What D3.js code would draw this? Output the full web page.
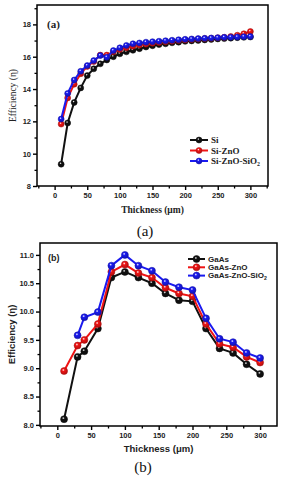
<!DOCTYPE html>
<html>
<head>
<meta charset="utf-8">
<script src="https://cdn.jsdelivr.net/npm/d3@7"></script>
<style>
  body { margin: 0; background: #fff; }
  svg { display: block; }
</style>
</head>
<body>
<div id="chart"></div>
<script>
// panel (a) - Si cells
const thickA = [10, 20, 30, 40, 50, 60, 70, 80, 90, 100, 110, 120, 130, 140, 150,
                160, 170, 180, 190, 200, 210, 220, 230, 240, 250, 260, 270, 280, 290, 300];
const effSi = [9.35, 11.9, 13.17, 14.07, 14.83, 15.25, 15.56, 15.8, 16.0, 16.18, 16.3, 16.4, 16.5, 16.6, 16.68,
               16.75, 16.8, 16.86, 16.9, 16.95, 16.98, 17.01, 17.04, 17.07, 17.1, 17.12, 17.15, 17.18, 17.2, 17.22];
const effSiZnO = [11.83, 13.45, 14.3, 14.95, 15.4, 15.7, 16.1, 16.1, 16.3, 16.45, 16.55, 16.65, 16.72, 16.78, 16.84,
                  16.88, 16.92, 16.96, 17.0, 17.03, 17.06, 17.09, 17.12, 17.14, 17.17, 17.2, 17.25, 17.33, 17.42, 17.56];
const effSiZnOSiO2 = [12.14, 13.73, 14.56, 15.1, 15.45, 15.76, 16.07, 15.97, 16.38, 16.55, 16.7, 16.8, 16.85, 16.9, 16.93,
                      16.96, 16.99, 17.02, 17.05, 17.08, 17.1, 17.12, 17.14, 17.16, 17.18, 17.2, 17.21, 17.22, 17.24, 17.25];
const ticksA = [0, 50, 100, 150, 200, 250, 300];
const yTicksA = [8, 10, 12, 14, 16, 18];

// panel (b) - GaAs cells
const thickB = [10, 30, 40, 60, 80, 100, 120, 140, 160, 180, 200, 220, 240, 260, 280, 300];
const effGaAs = [8.1, 9.2, 9.3, 9.7, 10.6, 10.7, 10.6, 10.5, 10.32, 10.2, 10.18, 9.7, 9.35, 9.27, 9.07, 8.9];
const effGaAsZnO = [8.95, 9.4, 9.5, 9.78, 10.7, 10.83, 10.68, 10.6, 10.42, 10.32, 10.27, 9.78, 9.43, 9.37, 9.2, 9.1];
const thickB3 = [30, 40, 60, 80, 100, 120, 140, 160, 180, 200, 220, 240, 260, 280, 300];
const effGaAsZnOSiO2 = [9.58, 9.9, 9.99, 10.81, 11.0, 10.81, 10.72, 10.52, 10.43, 10.38, 9.88, 9.52, 9.46, 9.27, 9.18];
const ticksB = [0, 50, 100, 150, 200, 250, 300];
const yTicksB = [8.0, 8.5, 9.0, 9.5, 10.0, 10.5, 11.0];

const colors = {black: "#111", red: "#f01414", blue: "#1a1af0"};

const svg = d3.select("#chart").append("svg")
    .attr("width", 291)
    .attr("height", 480);

svg.append("rect").attr("width", 291).attr("height", 480).attr("fill", "#fff");

// shiny ball markers
const defs = svg.append("defs");
Object.entries(colors).forEach(([k, c]) => {
    const g = defs.append("radialGradient").attr("id", "ball-" + k)
        .attr("cx", "40%").attr("cy", "35%").attr("r", "65%");
    g.append("stop").attr("offset", "0%").attr("stop-color", "#fff");
    g.append("stop").attr("offset", "30%").attr("stop-color", c);
    g.append("stop").attr("offset", "100%").attr("stop-color", d3.color(c).darker(0.8));
});

function drawPanel(cfg) {
    const g = svg.append("g");
    const x = d3.scaleLinear().domain(cfg.xDomain).range([cfg.left, cfg.right]);
    const y = d3.scaleLinear().domain(cfg.yDomain).range([cfg.bottom, cfg.top]);

    // frame
    g.append("rect")
        .attr("x", cfg.left).attr("y", cfg.top)
        .attr("width", cfg.right - cfg.left).attr("height", cfg.bottom - cfg.top)
        .attr("fill", "none").attr("stroke", "#000").attr("stroke-width", 1.5);

    // minor ticks
    const minorX = d3.range(-25, 326, 25).filter(v => v > cfg.xDomain[0] && v < cfg.xDomain[1] && v % 50 !== 0);
    g.append("g").attr("transform", `translate(0,${cfg.bottom})`)
        .call(d3.axisBottom(x).tickValues(minorX).tickSize(2.5).tickFormat(""))
        .call(a => a.select(".domain").remove())
        .call(a => a.selectAll("line").attr("stroke-width", 1.3));
    g.append("g").attr("transform", `translate(${cfg.left},0)`)
        .call(d3.axisLeft(y).tickValues(cfg.minorY).tickSize(2.5).tickFormat(""))
        .call(a => a.select(".domain").remove())
        .call(a => a.selectAll("line").attr("stroke-width", 1.3));

    // major ticks
    const xa = g.append("g").attr("transform", `translate(0,${cfg.bottom})`)
        .call(d3.axisBottom(x).tickValues(cfg.xTicks).tickSize(4).tickPadding(3));
    const ya = g.append("g").attr("transform", `translate(${cfg.left},0)`)
        .call(d3.axisLeft(y).tickValues(cfg.yTicks).tickSize(4).tickPadding(2)
            .tickFormat(d3.format(cfg.yFormat)));
    [xa, ya].forEach(a => {
        a.select(".domain").remove();
        a.selectAll("line").attr("stroke-width", 1.4);
        a.selectAll("text").attr("font-family", cfg.tickFont).attr("font-weight", "bold")
            .attr("font-size", cfg.tickSize).attr("fill", "#222");
    });

    // series
    cfg.series.forEach(s => {
        const pts = s.xs.map((v, i) => [v, s.ys[i]]);
        g.append("path")
            .datum(pts)
            .attr("fill", "none")
            .attr("stroke", colors[s.color])
            .attr("stroke-width", 2)
            .attr("d", d3.line().x(d => x(d[0])).y(d => y(d[1])));
        g.selectAll(null).data(pts).enter().append("circle")
            .attr("cx", d => x(d[0])).attr("cy", d => y(d[1]))
            .attr("r", cfg.r)
            .attr("fill", `url(#ball-${s.color})`)
            .attr("stroke", d3.color(colors[s.color]).darker(1))
            .attr("stroke-width", 0.5);
    });

    // legend
    cfg.series.forEach((s, i) => {
        const ly = cfg.legend.y + i * cfg.legend.dy;
        g.append("line")
            .attr("x1", cfg.legend.x).attr("x2", cfg.legend.x + cfg.legend.len)
            .attr("y1", ly).attr("y2", ly)
            .attr("stroke", colors[s.color]).attr("stroke-width", 2);
        g.append("circle")
            .attr("cx", cfg.legend.x + cfg.legend.len / 2).attr("cy", ly).attr("r", cfg.r)
            .attr("fill", `url(#ball-${s.color})`)
            .attr("stroke", d3.color(colors[s.color]).darker(1)).attr("stroke-width", 0.5);
        const t = g.append("text")
            .attr("x", cfg.legend.x + cfg.legend.len + 3).attr("y", ly).attr("dy", "0.35em")
            .attr("font-family", cfg.labelFont).attr("font-weight", "bold")
            .attr("font-size", cfg.legend.size).attr("fill", "#222")
            .text(s.name);
        if (s.sub) {
            t.append("tspan").attr("font-size", cfg.legend.size * 0.65).attr("dy", "0.3em").text(s.sub);
        }
    });

    // panel tag
    g.append("text")
        .attr("x", cfg.tag.x).attr("y", cfg.tag.y).attr("dy", "0.35em")
        .attr("font-family", cfg.labelFont).attr("font-weight", "bold")
        .attr("font-size", cfg.tag.size).attr("fill", "#222")
        .text(cfg.tag.text);

    // axis titles
    g.append("text")
        .attr("x", (cfg.left + cfg.right) / 2).attr("y", cfg.xTitleY)
        .attr("text-anchor", "middle").attr("dy", "0.35em")
        .attr("font-family", cfg.labelFont).attr("font-weight", "bold")
        .attr("font-size", cfg.titleSize).attr("fill", "#222")
        .text("Thickness (\u03bcm)");
    g.append("text")
        .attr("transform", `translate(${cfg.yTitleX},${(cfg.top + cfg.bottom) / 2}) rotate(-90)`)
        .attr("text-anchor", "middle").attr("dy", "0.35em")
        .attr("font-family", cfg.labelFont).attr("font-weight", cfg.yTitleWeight)
        .attr("font-size", cfg.titleSize).attr("fill", "#222")
        .text("Efficiency (\u03b7)");

    // caption under panel
    svg.append("text")
        .attr("x", cfg.caption.x).attr("y", cfg.caption.y)
        .attr("text-anchor", "middle")
        .attr("font-family", "Liberation Serif, serif")
        .attr("font-size", 15).attr("fill", "#111")
        .text(cfg.caption.text);
}

drawPanel({
    left: 37, right: 268, top: 5, bottom: 186,
    xDomain: [-27, 327], yDomain: [8, 19.2],
    xTicks: ticksA, yTicks: yTicksA, minorY: [9, 11, 13, 15, 17, 19], yFormat: "d",
    tickFont: "Liberation Sans, Arial, sans-serif", tickSize: 7.5,
    labelFont: "Liberation Serif, serif", titleSize: 9.5, yTitleX: 13, yTitleWeight: "normal",
    r: 3,
    series: [
        {name: "Si", xs: thickA, ys: effSi, color: "black"},
        {name: "Si-ZnO", xs: thickA, ys: effSiZnO, color: "red"},
        {name: "Si-ZnO-SiO", sub: "2", xs: thickA, ys: effSiZnOSiO2, color: "blue"}
    ],
    legend: {x: 190, y: 140, dy: 10.5, len: 18, size: 9},
    tag: {text: "(a)", x: 47, y: 24, size: 11},
    xTitleY: 210,
    caption: {text: "(a)", x: 145, y: 236}
});

drawPanel({
    left: 40, right: 277, top: 243, bottom: 426,
    xDomain: [-25.6, 325], yDomain: [7.98, 11.21],
    xTicks: ticksB, yTicks: yTicksB, minorY: [8.25, 8.75, 9.25, 9.75, 10.25, 10.75], yFormat: ".1f",
    tickFont: "Liberation Sans, Arial, sans-serif", tickSize: 7.5,
    labelFont: "Liberation Sans, Arial, sans-serif", titleSize: 9.5, yTitleX: 12, yTitleWeight: "bold",
    r: 3.5,
    series: [
        {name: "GaAs", xs: thickB, ys: effGaAs, color: "black"},
        {name: "GaAs-ZnO", xs: thickB, ys: effGaAsZnO, color: "red"},
        {name: "GaAs-ZnO-SiO", sub: "2", xs: thickB3, ys: effGaAsZnOSiO2, color: "blue"}
    ],
    legend: {x: 188, y: 259, dy: 8.3, len: 17, size: 8},
    tag: {text: "(b)", x: 48, y: 258, size: 9},
    xTitleY: 449,
    caption: {text: "(b)", x: 143, y: 472}
});
</script>
</body>
</html>
